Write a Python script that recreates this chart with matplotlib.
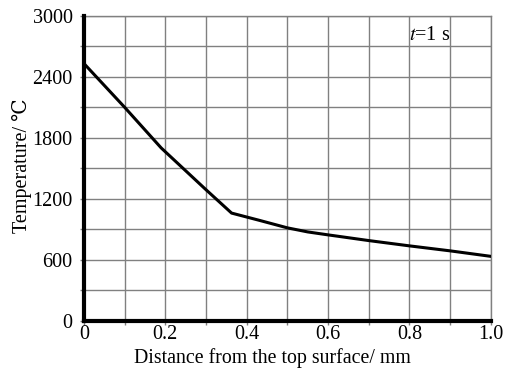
import numpy as np
import matplotlib
matplotlib.use('Agg')
import matplotlib.pyplot as plt

# temperature profile
distance = [0.0, 0.1, 0.19, 0.3, 0.363, 0.43, 0.5, 0.55, 0.6, 0.7, 0.8, 0.9, 1.0]
temperature = [2530, 2100, 1700, 1290, 1060, 990, 915, 875, 846, 790, 738, 689, 635]

xticks = [0, 0.2, 0.4, 0.6, 0.8, 1.0]
xticklabels = ['0', '0.2', '0.4', '0.6', '0.8', '1.0']
yticks = [0, 600, 1200, 1800, 2400, 3000]

plt.rcParams['font.family'] = ['Liberation Serif', 'DejaVu Serif', 'DejaVu Sans']
plt.rcParams['mathtext.fontset'] = 'stix'

fig = plt.figure(figsize=(5.05, 3.7), dpi=100)
ax = fig.add_axes([0.166, 0.1324, 0.806, 0.8256])

ax.plot(distance, temperature, color='black', lw=2.2, solid_joinstyle='round', zorder=3)

ax.set_xlim(0, 1.0)
ax.set_ylim(0, 3000)
ax.set_xticks(np.arange(0, 1.01, 0.1))
ax.set_yticks(np.arange(0, 3001, 300))
ax.set_xticklabels([xticklabels[i // 2] if i % 2 == 0 else '' for i in range(11)])
ax.set_yticklabels([str(v) if v in yticks else '' for v in range(0, 3001, 300)])
ax.tick_params(direction='out', length=3, width=1, color='#808080', labelsize=14.5)
ax.tick_params(axis='x', pad=0)
ax.tick_params(axis='y', pad=5)

ax.grid(True, color='#808080', lw=1)
ax.set_axisbelow(True)

for s in ['top', 'right']:
    ax.spines[s].set_color('#808080')
    ax.spines[s].set_linewidth(1)
for s in ['left', 'bottom']:
    ax.spines[s].set_color('black')
    ax.spines[s].set_linewidth(3)
    ax.spines[s].set_zorder(4)

ax.set_xlabel('Distance from the top surface/ mm', fontsize=14.3)
ax.set_ylabel('Temperature/ ℃', fontsize=14.5)
ax.xaxis.set_label_coords(0.464, -0.121)
ax.xaxis.label.set_va('center')
ax.yaxis.set_label_coords(-0.152, 0.51)
ax.yaxis.label.set_va('center')

ax.text(0.8, 2800, '$t$=1 s', fontsize=14.5, va='center', ha='left')

plt.savefig('out.png', dpi=100)
